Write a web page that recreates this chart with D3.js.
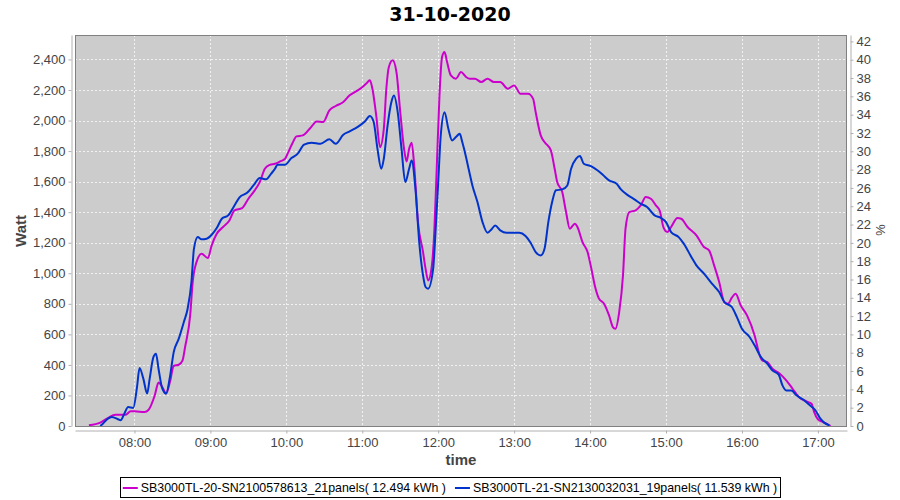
<!DOCTYPE html>
<html>
<head>
<meta charset="utf-8">
<script src="https://cdn.jsdelivr.net/npm/d3@7"></script>
<style>
  body { margin: 0; background: #fff; }
  svg { display: block; }
</style>
</head>
<body>
<svg id="chart" width="900" height="500"></svg>
<script>
const chartTitle = "31-10-2020";
const seriesNames = [
  "SB3000TL-20-SN2100578613_21panels( 12.494 kWh )",
  "SB3000TL-21-SN2130032031_19panels( 11.539 kWh )"
];
const seriesColors = ["#cc00cc", "#0033cc"];

// inverter 1 (magenta)
const magentaTimes = ["07:24","07:33","07:39","07:45","07:53","07:57","08:00","08:08","08:11","08:16","08:19","08:22","08:25","08:28","08:31","08:35","08:38","08:40","08:44","08:46","08:49","08:53","08:58","09:01","09:05","09:10","09:15","09:19","09:25","09:30","09:35","09:39","09:43","09:47","09:51","09:55","09:59","10:01","10:05","10:08","10:13","10:19","10:24","10:29","10:34","10:39","10:45","10:50","10:54","10:59","11:03","11:06","11:08","11:11","11:14","11:17","11:19","11:21","11:24","11:27","11:30","11:33","11:35","11:37","11:39","11:41","11:44","11:48","11:50","11:52","11:55","11:57","11:59","12:01","12:03","12:05","12:07","12:10","12:14","12:18","12:22","12:25","12:29","12:34","12:39","12:44","12:49","12:55","13:00","13:05","13:11","13:15","13:17","13:21","13:24","13:29","13:32","13:34","13:38","13:41","13:44","13:48","13:50","13:54","13:58","14:01","14:04","14:07","14:11","14:15","14:18","14:20","14:23","14:26","14:28","14:31","14:36","14:40","14:44","14:48","14:52","14:55","14:58","15:01","15:04","15:09","15:12","15:17","15:24","15:30","15:34","15:38","15:42","15:46","15:49","15:52","15:55","15:59","16:04","16:10","16:14","16:16","16:20","16:24","16:29","16:35","16:40","16:45","16:51","16:55","16:57","17:00","17:04","17:08","17:10"];
const magentaWatts = [5,22,52,74,74,96,96,92,105,200,284,255,212,288,393,401,430,517,724,943,1073,1128,1100,1183,1259,1303,1346,1412,1427,1488,1543,1597,1684,1710,1717,1732,1750,1783,1855,1896,1903,1951,1994,1990,2066,2095,2121,2165,2186,2212,2241,2263,2208,2034,1826,1946,2208,2350,2394,2317,2055,1815,1732,1815,1855,1706,1335,1139,1030,953,1052,1292,1728,2164,2415,2448,2383,2295,2274,2317,2285,2274,2274,2252,2274,2252,2252,2208,2230,2175,2175,2142,2055,1903,1859,1804,1684,1597,1532,1401,1292,1325,1303,1204,1139,1030,910,834,801,724,648,637,746,986,1292,1401,1412,1444,1499,1488,1444,1410,1300,1270,1303,1362,1357,1303,1248,1172,1150,1052,943,812,801,840,866,790,724,593,462,430,419,375,349,299,244,190,161,146,92,44,26,9,0];

// inverter 2 (blue)
const blueTimes = ["07:33","07:35","07:39","07:42","07:47","07:49","07:52","07:55","07:59","08:02","08:04","08:07","08:10","08:12","08:15","08:17","08:19","08:22","08:25","08:28","08:31","08:35","08:39","08:42","08:45","08:47","08:50","08:53","08:57","09:01","09:05","09:09","09:14","09:19","09:23","09:29","09:34","09:39","09:44","09:48","09:51","09:53","09:59","10:04","10:09","10:14","10:20","10:27","10:34","10:39","10:45","10:50","10:57","11:02","11:06","11:09","11:12","11:15","11:17","11:20","11:23","11:25","11:28","11:31","11:34","11:37","11:39","11:42","11:45","11:48","11:50","11:52","11:56","11:58","12:00","12:02","12:05","12:08","12:11","12:14","12:17","12:19","12:22","12:24","12:27","12:31","12:35","12:39","12:42","12:45","12:49","12:54","13:00","13:04","13:09","13:13","13:17","13:21","13:24","13:27","13:30","13:33","13:38","13:42","13:45","13:49","13:52","13:55","14:01","14:06","14:10","14:15","14:21","14:24","14:30","14:35","14:40","14:45","14:51","14:56","15:00","15:04","15:10","15:14","15:20","15:24","15:30","15:37","15:42","15:46","15:52","15:56","16:00","16:06","16:10","16:15","16:20","16:24","16:29","16:32","16:35","16:39","16:43","16:48","16:53","16:58","17:02","17:05","17:09"];
const blueWatts = [0,15,48,59,44,37,81,124,118,255,380,310,212,310,452,473,375,244,212,321,484,572,681,768,943,1161,1237,1222,1226,1252,1296,1357,1379,1444,1497,1527,1575,1623,1615,1652,1684,1711,1711,1754,1783,1842,1855,1848,1877,1848,1907,1929,1962,1994,2029,1990,1815,1684,1750,1968,2121,2164,2055,1815,1597,1684,1739,1553,1204,986,910,899,1030,1292,1597,1903,2055,1946,1870,1892,1913,1859,1760,1684,1575,1466,1335,1265,1287,1313,1281,1265,1265,1265,1244,1200,1139,1117,1161,1335,1466,1543,1549,1575,1684,1750,1767,1717,1700,1673,1645,1608,1586,1553,1510,1484,1455,1434,1379,1362,1335,1270,1237,1194,1107,1052,998,925,877,812,779,713,637,583,528,451,408,364,336,266,233,233,201,175,140,103,48,22,4];

const leftTicks = d3.range(0, 2401, 200);
const rightTicks = d3.range(0, 43, 2);
const hourTicks = ["08:00","09:00","10:00","11:00","12:00","13:00","14:00","15:00","16:00","17:00"];

const parseTime = d3.timeParse("%H:%M");
const svg = d3.select("#chart");

const plot = { left: 75, right: 847, top: 35, bottom: 426 };

const x = d3.scaleTime()
  .domain([parseTime("07:13"), parseTime("17:23")])
  .range([plot.left, plot.right]);
const y = d3.scaleLinear().domain([0, 2560]).range([plot.bottom, plot.top]);
const yRight = d3.scaleLinear().domain([0, 42.7]).range([plot.bottom, plot.top]);

const series = [
  { name: seriesNames[0], color: seriesColors[0],
    points: magentaTimes.map((t, i) => ({ t: parseTime(t), v: magentaWatts[i] })) },
  { name: seriesNames[1], color: seriesColors[1],
    points: blueTimes.map((t, i) => ({ t: parseTime(t), v: blueWatts[i] })) }
];

// title
svg.append("text")
  .attr("x", 450).attr("y", 21)
  .attr("text-anchor", "middle")
  .style("font-family", "DejaVu Sans")
  .style("font-weight", "bold")
  .style("font-size", "19px")
  .text(chartTitle);

// plot background
svg.append("rect")
  .attr("x", plot.left).attr("y", plot.top)
  .attr("width", plot.right - plot.left).attr("height", plot.bottom - plot.top)
  .attr("fill", "#cccccc");

// grid
const grid = svg.append("g")
  .attr("stroke", "#f2f2f2")
  .attr("stroke-width", 1)
  .attr("stroke-dasharray", "2,2");
grid.selectAll("line.h")
  .data(leftTicks.filter(d => d > 0))
  .enter().append("line")
  .attr("x1", plot.left).attr("x2", plot.right)
  .attr("y1", d => Math.round(y(d)) + 0.5).attr("y2", d => Math.round(y(d)) + 0.5);
grid.selectAll("line.v")
  .data(hourTicks.map(parseTime))
  .enter().append("line")
  .attr("x1", d => Math.round(x(d)) + 0.5).attr("x2", d => Math.round(x(d)) + 0.5)
  .attr("y1", plot.top).attr("y2", plot.bottom);

// lines
const line = d3.line()
  .x(d => x(d.t))
  .y(d => y(d.v))
  .curve(d3.curveMonotoneX);

const plotArea = svg.append("g");
plotArea.selectAll("path")
  .data(series)
  .enter().append("path")
  .attr("d", d => line(d.points))
  .attr("fill", "none")
  .attr("stroke", d => d.color)
  .attr("stroke-width", 2)
  .attr("stroke-linejoin", "round");

// border
svg.append("rect")
  .attr("x", plot.left + 0.5).attr("y", plot.top + 0.5)
  .attr("width", plot.right - plot.left - 1).attr("height", plot.bottom - plot.top)
  .attr("fill", "none")
  .attr("stroke", "#808080");

function styleAxis(g) {
  g.select(".domain").attr("stroke", "#b0b0b0");
  g.selectAll(".tick line").attr("stroke", "#b0b0b0");
  g.selectAll(".tick text")
    .attr("fill", "#444")
    .style("font-family", "Liberation Sans")
    .style("font-size", "13px");
}

// left axis
svg.append("g")
  .attr("transform", "translate(71.5,0)")
  .call(d3.axisLeft(y).tickValues(leftTicks).tickFormat(d3.format(",")).tickSize(3).tickPadding(3).tickSizeOuter(0))
  .call(styleAxis);

// right axis
svg.append("g")
  .attr("transform", "translate(850.5,0)")
  .call(d3.axisRight(yRight).tickValues(rightTicks).tickSize(3).tickPadding(3).tickSizeOuter(0))
  .call(styleAxis);

// bottom axis
svg.append("g")
  .attr("transform", "translate(0,430.5)")
  .call(d3.axisBottom(x).tickValues(hourTicks.map(parseTime)).tickFormat(d3.timeFormat("%H:%M")).tickSize(3).tickPadding(4).tickSizeOuter(0))
  .call(styleAxis);

// axis labels
const labelStyle = sel => sel
  .attr("fill", "#444")
  .attr("text-anchor", "middle")
  .style("font-family", "Liberation Sans")
  .style("font-weight", "bold")
  .style("font-size", "15px");

svg.append("text")
  .attr("transform", "translate(26,231) rotate(-90)")
  .call(labelStyle)
  .text("Watt");

svg.append("text")
  .attr("transform", "translate(876,230) rotate(90)")
  .call(labelStyle)
  .style("font-weight", "normal")
  .style("font-size", "13px")
  .text("%");

svg.append("text")
  .attr("x", 461).attr("y", 465)
  .call(labelStyle)
  .text("time");

// legend
const legend = svg.append("g");
const items = legend.selectAll("g")
  .data(series)
  .enter().append("g");
items.append("line")
  .attr("x1", 0).attr("x2", 15)
  .attr("y1", 0).attr("y2", 0)
  .attr("stroke", d => d.color)
  .attr("stroke-width", 2);
items.append("text")
  .attr("x", 18).attr("y", 4)
  .style("font-family", "Liberation Sans")
  .style("font-size", "12.4px")
  .attr("fill", "#000")
  .text(d => d.name);

let offset = 0;
const widths = [];
items.each(function () {
  widths.push(18 + this.querySelector("text").getComputedTextLength());
});
const gap = 9;
const total = d3.sum(widths) + gap * (widths.length - 1);
const boxPad = 3;
const legendX = 450 - total / 2;
items.attr("transform", (d, i) => {
  const tx = legendX + offset;
  offset += widths[i] + gap;
  return `translate(${tx},488)`;
});
legend.insert("rect", ":first-child")
  .attr("x", Math.round(legendX - boxPad) + 0.5)
  .attr("y", 477.5)
  .attr("width", Math.round(total + boxPad * 2))
  .attr("height", 20)
  .attr("fill", "#fff")
  .attr("stroke", "#000");
</script>
</body>
</html>
